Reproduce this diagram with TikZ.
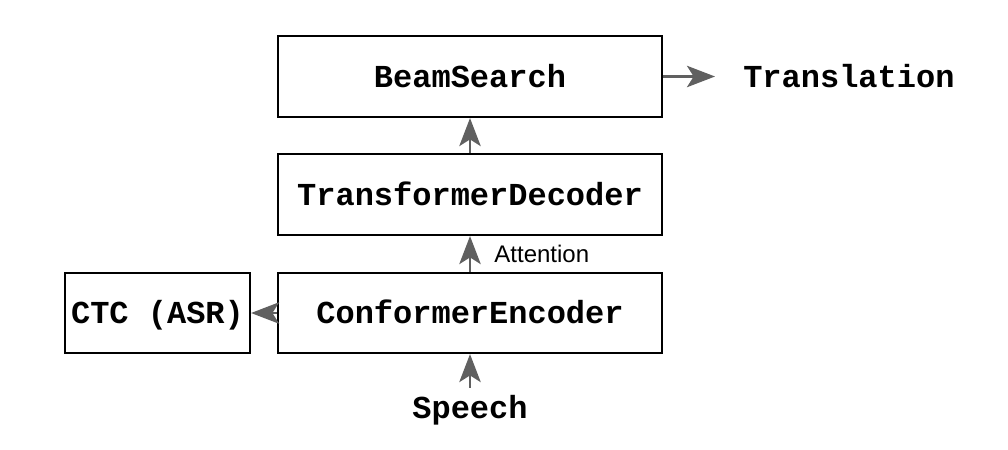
\documentclass[tikz,border=0pt]{standalone}
\usepackage{fontspec}
\setmainfont{Liberation Sans}
\newfontfamily\monofam{Liberation Mono}
\usetikzlibrary{arrows.meta}
\definecolor{arrowgray}{RGB}{96,96,96}
\begin{document}
\begin{tikzpicture}[x=0.75pt,y=-0.75pt,
  lbl/.style={font=\monofam\bfseries\fontsize{24}{28}\selectfont, text height=15.8pt, text depth=0pt},
  box/.style={lbl, draw=black, line width=1.6pt, minimum height=60.75pt, inner sep=0pt},
  wide/.style={box, minimum width=288pt},
  arr/.style={draw=arrowgray, line width=2.1pt, -{Stealth[length=21pt,width=16pt,inset=5pt]}},
  note/.style={font=\fontsize{18}{21}\selectfont, text height=12.9pt, text depth=0pt, inner sep=0pt}
]
\useasboundingbox (0,0) rectangle (1008,450);
\node[wide] (beam) at (470,76.5) {BeamSearch};
\node[wide] (td) at (470,194.5) {TransformerDecoder};
\node[wide, minimum height=60pt] (ce) at (470,313) {ConformerEncoder};
\node[box, minimum width=138.75pt, minimum height=60pt] (ctc) at (157.5,313) {CTC (ASR)};
\node[lbl, anchor=west, inner xsep=21pt, inner ysep=0pt] (tr) at (715,76.5) {Translation};
\node[lbl, anchor=base, inner ysep=6.75pt] (sp) at (470,418) {Speech};
\draw[arr] (beam.east) -- (tr.west);
\draw[arr] (td) -- (beam);
\draw[arr] (ce) -- node[note, anchor=west, xshift=17.25pt] (att) {Attention} (td);
\draw[arr] (sp) -- (ce);
\draw[arr] (ce) -- (ctc);
\end{tikzpicture}
\end{document}
